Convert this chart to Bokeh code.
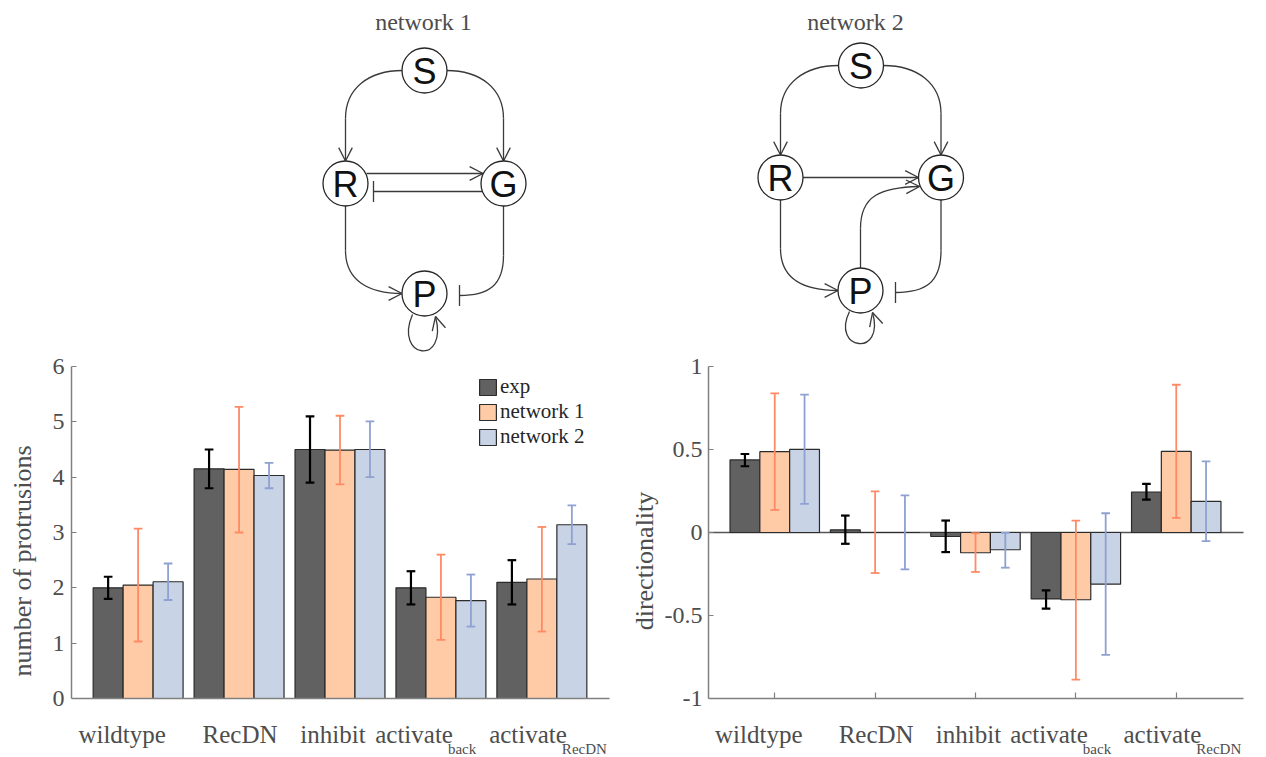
import math
from bokeh.plotting import figure
from bokeh.models import (Range1d, FixedTicker, CustomJSTickFormatter,
                          Legend, LegendItem)
from bokeh.layouts import column, row
from bokeh.embed import file_html
from bokeh.resources import INLINE
from bokeh.core.properties import value

# ---------------- data ----------------
groups = [1, 2, 3, 4, 5]
label_main = ["wildtype", "RecDN", "inhibit", "activate", "activate"]
label_sub = ["", "", "", "back", "RecDN"]
series = ["exp", "network 1", "network 2"]

prot_exp = [2.00, 4.15, 4.50, 2.00, 2.10]
prot_exp_lo = [1.80, 3.80, 3.90, 1.70, 1.70]
prot_exp_hi = [2.20, 4.50, 5.10, 2.30, 2.50]
prot_net1 = [2.05, 4.14, 4.49, 1.83, 2.16]
prot_net1_lo = [1.03, 3.00, 3.87, 1.06, 1.21]
prot_net1_hi = [3.07, 5.27, 5.11, 2.60, 3.10]
prot_net2 = [2.11, 4.03, 4.50, 1.77, 3.14]
prot_net2_lo = [1.78, 3.80, 4.00, 1.30, 2.79]
prot_net2_hi = [2.44, 4.26, 5.01, 2.24, 3.49]

dir_exp = [0.437, 0.016, -0.024, -0.400, 0.244]
dir_exp_lo = [0.399, -0.068, -0.118, -0.459, 0.198]
dir_exp_hi = [0.473, 0.102, 0.072, -0.349, 0.293]
dir_net1 = [0.487, 0.0, -0.122, -0.405, 0.489]
dir_net1_lo = [0.136, -0.244, -0.238, -0.886, 0.088]
dir_net1_hi = [0.838, 0.248, -0.004, 0.072, 0.890]
dir_net2 = [0.501, 0.0, -0.104, -0.311, 0.188]
dir_net2_lo = [0.172, -0.222, -0.212, -0.737, -0.052]
dir_net2_hi = [0.830, 0.224, -0.002, 0.116, 0.429]

prot_ticks = [0, 1, 2, 3, 4, 5, 6]
dir_ticks = [-1, -0.5, 0, 0.5, 1]

# ---------------- style ----------------
FILL = ["#616161", "#FFCBA6", "#C8D3E6"]
ERR = ["#000000", "#FF8A65", "#8EA1D1"]
EDGE = "#2b2b2b"
AX = "#808080"
TXT = "#4d4d4d"
SERIF = "Liberation Serif"
BW = 0.297
OFFS = [-BW, 0.0, BW]
CAP = 0.043
XR = (0.34, 5.67)       # extent of the x axis
FRAME_H_DATA = 332      # pixel height of the data part of each chart
EXTRA_PX = 57           # label strip under the x axis, inside the frame
# label placement (pixel offsets from group centre)
plain_dx = [-16, 1, -7, 0, 0]
split_dx = [0, 0, 0, 12, 25]


def bar_chart(vals, los, his, ylo, yhi, ticks, ylabel, border_left, border_right,
              axis_w, extra_right, xtick_len, label_standoff, tick_standoff, zero_line):
    pxu = FRAME_H_DATA / (yhi - ylo)
    pxx = axis_w / (XR[1] - XR[0])
    ybottom = ylo - EXTRA_PX / pxu
    p = figure(frame_width=axis_w + extra_right, frame_height=FRAME_H_DATA + EXTRA_PX,
               x_range=Range1d(XR[0], XR[1] + extra_right / pxx),
               y_range=Range1d(ybottom, yhi),
               toolbar_location=None, output_backend="svg",
               x_axis_location="above",
               min_border_left=border_left, min_border_right=border_right,
               min_border_top=13, min_border_bottom=0)
    p.grid.visible = False
    p.outline_line_color = None
    if zero_line:
        p.segment(x0=[XR[0]], y0=[0], x1=[XR[1]], y1=[0], line_color="#555555",
                  line_width=1.5)
    renderers = []
    for k in range(3):
        xs = [g + OFFS[k] for g in groups]
        r = p.vbar(x=xs, top=vals[k], bottom=0, width=BW, fill_color=FILL[k],
                   line_color=EDGE, line_width=1.2)
        renderers.append(r)
    for k in range(3):
        xs = [g + OFFS[k] for g in groups]
        lw = 2.2 if k == 0 else 1.8
        p.segment(x0=xs, y0=los[k], x1=xs, y1=his[k], line_color=ERR[k], line_width=lw)
        p.segment(x0=[x - CAP for x in xs], y0=los[k], x1=[x + CAP for x in xs], y1=los[k],
                  line_color=ERR[k], line_width=lw)
        p.segment(x0=[x - CAP for x in xs], y0=his[k], x1=[x + CAP for x in xs], y1=his[k],
                  line_color=ERR[k], line_width=lw)
    # axes
    for ax in (p.xaxis[0], p.yaxis[0]):
        ax.axis_line_color = AX
        ax.axis_line_width = 1.5
        ax.major_tick_line_color = AX
        ax.major_tick_line_width = 1.2
        ax.minor_tick_line_color = None
    xa = p.xaxis[0]
    xa.fixed_location = ylo
    xa.bounds = XR
    xa.ticker = FixedTicker(ticks=groups)
    xa.formatter = CustomJSTickFormatter(code="return ''")
    xa.major_label_text_font_size = "0px"
    xa.major_label_standoff = 0
    xa.major_tick_in = 0
    xa.major_tick_out = xtick_len          # axis sits "above": out points up into the plot
    if xtick_len == 0:
        xa.major_tick_line_color = None
    ya = p.yaxis[0]
    ya.bounds = (ylo, yhi)
    ya.ticker = FixedTicker(ticks=ticks)
    ya.formatter = CustomJSTickFormatter(code="return tick.toString()")
    ya.major_tick_in = 5
    ya.major_tick_out = 0
    ya.major_label_text_font = SERIF
    ya.major_label_text_font_size = "24px"
    ya.major_label_text_color = TXT
    ya.major_label_standoff = tick_standoff
    ya.axis_label = ylabel
    ya.axis_label_text_font = SERIF
    ya.axis_label_text_font_size = "26px"
    ya.axis_label_text_font_style = "normal"
    ya.axis_label_text_color = TXT
    ya.axis_label_standoff = label_standoff
    # category labels (drawn in the strip under the axis)
    y_main = ylo - 35.6 / pxu
    y_sub = ylo - 50 / pxu
    plain = [i for i in range(5) if label_sub[i] == ""]
    subbed = [i for i in range(5) if label_sub[i] != ""]
    p.text(x=[groups[i] for i in plain], y=[y_main] * len(plain),
           text=[label_main[i] for i in plain], x_offset=[plain_dx[i] for i in plain],
           text_align="center", text_baseline="middle", text_font=value(SERIF),
           text_font_size="25px", text_color=TXT)
    p.text(x=[groups[i] for i in subbed], y=[y_main] * len(subbed),
           text=[label_main[i] for i in subbed], x_offset=[split_dx[i] for i in subbed],
           text_align="right", text_baseline="middle", text_font=value(SERIF),
           text_font_size="25px", text_color=TXT)
    p.text(x=[groups[i] for i in subbed], y=[y_sub] * len(subbed),
           text=[label_sub[i] for i in subbed], x_offset=[split_dx[i] - 5 for i in subbed],
           text_align="left", text_baseline="middle", text_font=value(SERIF),
           text_font_size="15px", text_color=TXT)
    return p, renderers


left, lrs = bar_chart([prot_exp, prot_net1, prot_net2],
                      [prot_exp_lo, prot_net1_lo, prot_net2_lo],
                      [prot_exp_hi, prot_net1_hi, prot_net2_hi],
                      0, 6, prot_ticks, "number of protrusions", 71, 0, 538, 8, 0, 13, 7,
                      False)
legend = Legend(items=[LegendItem(label=series[k], renderers=[lrs[k]]) for k in range(3)],
                location=(406, 306), padding=0, margin=0, spacing=0,
                glyph_width=21, glyph_height=20, label_height=24, label_standoff=2,
                label_text_font=SERIF, label_text_font_size="21px",
                label_text_color="#262626", border_line_color=None,
                background_fill_alpha=0)
left.add_layout(legend)

right, _ = bar_chart([dir_exp, dir_net1, dir_net2],
                     [dir_exp_lo, dir_net1_lo, dir_net2_lo],
                     [dir_exp_hi, dir_net1_hi, dir_net2_hi],
                     -1, 1, dir_ticks, "directionality", 91, 11, 535, 10, 6, 3, 6, True)

# ---------------- network diagrams ----------------
top = figure(width=1264, height=353, x_range=Range1d(0, 1264), y_range=Range1d(353, 0),
             toolbar_location=None, output_backend="svg", min_border=0,
             x_axis_location=None, y_axis_location=None)
top.grid.visible = False
top.outline_line_color = None

LC = "#3a3a3a"
LW = 1.3
R_NODE = 22.5

nets = [
    {"title": "network 1", "tx": 423, "ty": 21,
     "nodes": {"S": (424, 70), "R": (345, 183), "G": (503, 183), "P": (424, 293)}},
    {"title": "network 2", "tx": 855, "ty": 21,
     "nodes": {"S": (860.5, 65), "R": (780, 177), "G": (940.5, 177), "P": (860, 290)}},
]

lines = []      # straight segments (x0,y0,x1,y1)
beziers = []    # (x0,y0,x1,y1,cx0,cy0,cx1,cy1)
heads = []      # arrow tips (tip, direction)
tees = []       # tee bars


def arrowhead(tip, d, L=15, ang=27):
    n = math.hypot(*d)
    bx, by = -d[0] / n, -d[1] / n
    res = []
    for s in (1, -1):
        a = math.radians(ang) * s
        rx = bx * math.cos(a) - by * math.sin(a)
        ry = bx * math.sin(a) + by * math.cos(a)
        res.append((tip[0], tip[1], tip[0] + L * rx, tip[1] + L * ry))
    return res


# network 1 edges
lines += [(345, 118, 345, 160.5), (503, 118, 503, 160.5),
          (366, 173, 482.5, 173), (482, 191, 373, 191),
          (345, 205.5, 345, 250), (503, 205.5, 503, 255)]
beziers += [(402, 70, 345, 118, 368, 70, 345, 88),
            (446, 70, 503, 118, 480, 70, 503, 88),
            (345, 250, 401.5, 293, 345, 280, 368, 293),
            (503, 255, 459, 295, 503, 285, 488, 295),
            (412, 314, 435, 316, 393, 358, 448, 366)]
heads += [((345, 160.5), (0, 1)), ((503, 160.5), (0, 1)), ((482.5, 173), (1, 0)),
          ((401.5, 293), (1, 0)), ((435, 316), (-13, -50))]
tees += [(373, 191), (459, 295)]

# network 2 edges
lines += [(780, 113, 780, 154.5), (940.5, 113, 940.5, 154.5),
          (802.5, 177, 918, 177), (860, 267.5, 860, 228),
          (780, 199.5, 780, 248), (940.5, 199.5, 940.5, 250)]
beziers += [(838, 65, 780, 113, 804, 65, 780, 83),
            (883, 65, 940.5, 113, 917, 65, 940.5, 83),
            (860, 228, 919, 186, 860, 195, 880, 187),
            (780, 248, 837.5, 290, 780, 278, 802, 290),
            (940.5, 250, 895, 292, 940.5, 282, 925, 292),
            (849, 311, 872, 312, 830, 350, 885, 357)]
heads += [((780, 154.5), (0, 1)), ((940.5, 154.5), (0, 1)), ((918, 177), (1, 0)),
          ((919, 186), (39, -1)), ((837.5, 290), (1, 0)), ((872, 312), (-13, -45))]
tees += [(895, 292)]

for (tip, d) in heads:
    lines += arrowhead(tip, d)
for (x, y) in tees:
    lines.append((x, y - 10.5, x, y + 10.5))

top.segment(x0=[l[0] for l in lines], y0=[l[1] for l in lines],
            x1=[l[2] for l in lines], y1=[l[3] for l in lines],
            line_color=LC, line_width=LW)
top.bezier(x0=[b[0] for b in beziers], y0=[b[1] for b in beziers],
           x1=[b[2] for b in beziers], y1=[b[3] for b in beziers],
           cx0=[b[4] for b in beziers], cy0=[b[5] for b in beziers],
           cx1=[b[6] for b in beziers], cy1=[b[7] for b in beziers],
           line_color=LC, line_width=LW)

for net in nets:
    names = list(net["nodes"].keys())
    xs = [net["nodes"][n][0] for n in names]
    ys = [net["nodes"][n][1] for n in names]
    top.circle(x=xs, y=ys, radius=R_NODE, fill_color="white", line_color="#262626",
               line_width=1.3)
    top.text(x=xs, y=[y + 1 for y in ys], text=names, text_align="center",
             text_baseline="middle", text_font=value("Liberation Sans"),
             text_font_size="36px", text_color="#111111")
    top.text(x=[net["tx"]], y=[net["ty"]], text=[net["title"]], text_align="center",
             text_baseline="middle", text_font=value(SERIF), text_font_size="24px",
             text_color=TXT)

layout = column(top, row(left, right, spacing=0), spacing=0)
open("out.html", "w").write(file_html(layout, INLINE))
